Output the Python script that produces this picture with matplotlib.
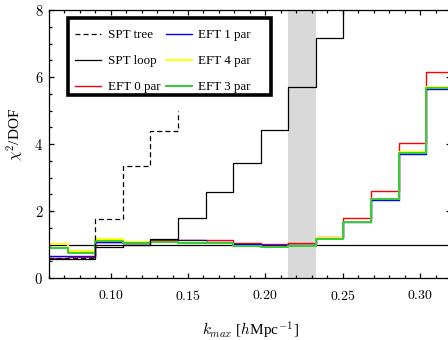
import matplotlib
matplotlib.use("Agg")
import matplotlib.pyplot as plt
from matplotlib.ticker import MultipleLocator, FuncFormatter
from matplotlib.patches import Rectangle

plt.rcParams["font.family"] = ["Liberation Serif", "DejaVu Serif"]
plt.rcParams["mathtext.fontset"] = "cm"

# left edges of the k_max bins (h/Mpc)
k_left = [0.0543, 0.0721, 0.0899, 0.1078, 0.1256, 0.1435, 0.1613, 0.1791,
          0.1970, 0.2148, 0.2327, 0.2505, 0.2683, 0.2862, 0.3040, 0.3218]

# reduced chi^2 per bin
spt_tree = [0.60, 0.60, 1.75, 3.35, 4.40, 5.00]
spt_loop = [0.57, 0.56, 0.92, 1.00, 1.15, 1.78, 2.58, 3.42, 4.42, 5.69, 7.17, 9.50]
eft_0par = [0.61, 0.62, 1.06, 1.05, 1.13, 1.12, 1.12, 1.03, 1.02, 1.03, 1.23, 1.78, 2.59, 4.02, 6.16, 8.60]
eft_1par = [0.67, 0.66, 1.08, 1.05, 1.10, 1.12, 1.08, 1.02, 0.99, 0.99, 1.18, 1.66, 2.34, 3.69, 5.63, 8.20]
eft_4par = [1.01, 0.80, 1.15, 1.08, 1.08, 1.06, 1.04, 0.96, 0.93, 0.97, 1.18, 1.67, 2.37, 3.75, 5.69, 8.30]
eft_3par = [0.89, 0.74, 1.11, 1.05, 1.08, 1.05, 1.04, 0.955, 0.92, 0.96, 1.16, 1.66, 2.36, 3.74, 5.68, 8.30]

band = (0.2148, 0.2327)

fig = plt.figure(figsize=(4.48, 3.40), dpi=100)
ax = fig.add_axes([48.8 / 448, 62 / 340, (451 - 48.8) / 448, 268 / 340])

ax.axvspan(*band, color="#d9d9d9", lw=0, zorder=0)
ax.axhline(1.0, color="k", lw=0.9, zorder=1)

ax.step(k_left[:len(spt_tree)], spt_tree, where="post", color="k", lw=0.9,
        ls=(0, (4, 2.5)), label="SPT tree", zorder=3)
ax.step(k_left[:len(spt_loop)], spt_loop, where="post", color="k", lw=0.9,
        label="SPT loop", zorder=3)
ax.step(k_left, eft_0par, where="post", color="#ff0000", lw=1.0, label="EFT 0 par", zorder=2)
ax.step(k_left, eft_1par, where="post", color="#0000ff", lw=1.0, label="EFT 1 par", zorder=2)
ax.step(k_left, eft_4par, where="post", color="#ffff00", lw=1.4, label="EFT 4 par", zorder=2)
ax.step(k_left, eft_3par, where="post", color="#33cc33", lw=1.4, label="EFT 3 par", zorder=2)

ax.set_xlim(0.06, 0.32)
ax.set_ylim(0, 8)
ax.xaxis.set_major_locator(MultipleLocator(0.05))
ax.xaxis.set_minor_locator(MultipleLocator(0.01))
ax.yaxis.set_major_locator(MultipleLocator(2))
ax.yaxis.set_minor_locator(MultipleLocator(0.5))
ax.xaxis.set_major_formatter(FuncFormatter(lambda v, p: rf"${v:.2f}$"))
ax.yaxis.set_major_formatter(FuncFormatter(lambda v, p: rf"${v:.0f}$"))
ax.tick_params(which="both", direction="in", top=True, right=True, width=0.9)
ax.tick_params(which="major", length=3.5, labelsize=10)
ax.tick_params(which="minor", length=2)
ax.tick_params(axis="x", pad=8)
ax.tick_params(axis="y", pad=4, labelsize=10.5)
for s in ax.spines.values():
    s.set_linewidth(0.9)

# legend frame
ax.add_patch(Rectangle((0.0477, 0.6828), 0.5517 - 0.0477, 0.9713 - 0.6828,
                       transform=ax.transAxes, facecolor="white", edgecolor="k",
                       lw=2.6, zorder=4.5))
ax.legend(loc="upper left", bbox_to_anchor=(0.066, 0.928), ncol=2, frameon=False,
          fontsize=9.4, handlelength=2.0, handletextpad=0.5, columnspacing=0.4,
          labelspacing=1.05, borderpad=0, borderaxespad=0)

fig.text(250 / 448, 1 - 330 / 340, r"$k_{max}$ [$h$Mpc$^{-1}$]", ha="center", va="center",
         fontsize=11)
fig.text(15 / 448, 1 - 134 / 340, r"$\chi^2$/DOF", ha="center", va="center",
         rotation=90, fontsize=11)

fig.savefig("out.png", dpi=100)
